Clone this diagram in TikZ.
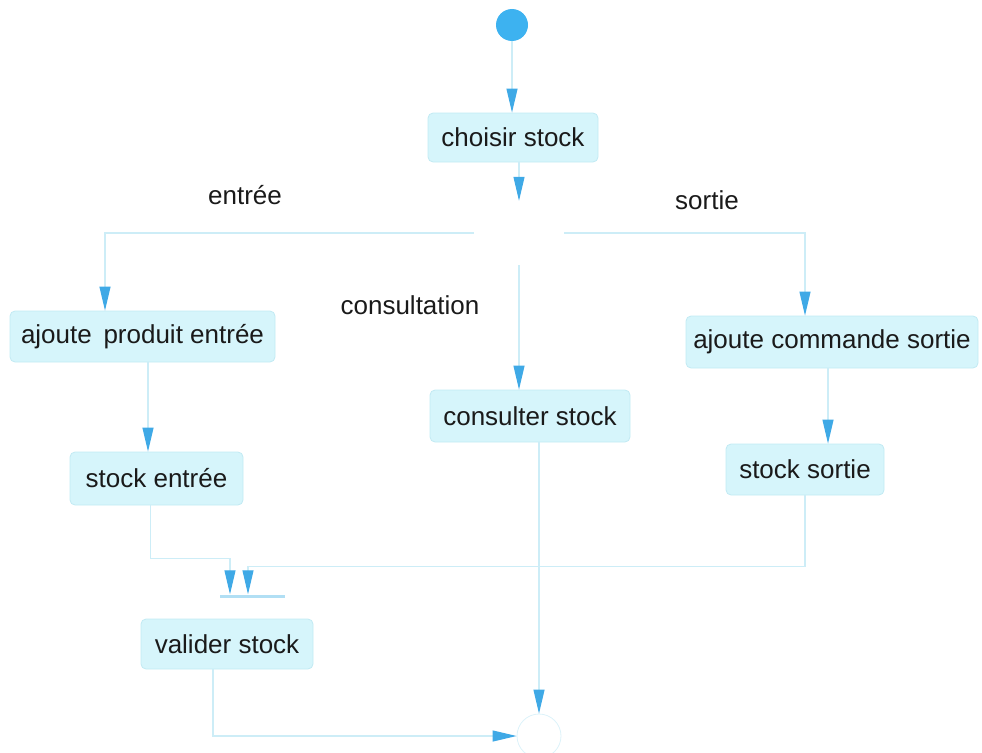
\documentclass[tikz,border=0pt]{standalone}
\usepackage{fontspec}
\setmainfont{Liberation Sans}
\usetikzlibrary{arrows.meta,shapes.geometric,calc}
\definecolor{linefaint}{HTML}{CDEDF7}
\definecolor{tipblue}{HTML}{3FA9E6}
\definecolor{boxfill}{HTML}{D6F5FB}
\definecolor{boxedge}{HTML}{C2EAF3}
\definecolor{startblue}{HTML}{3DB2F0}
\definecolor{inktext}{HTML}{1A1A1A}
\tikzset{
  activity/.style={draw=boxedge, fill=boxfill, rounded corners=5pt, line width=0.8pt,
    inner sep=0pt, text=inktext, font=\fontsize{26}{30}\selectfont},
  guard/.style={text=inktext, font=\fontsize{26}{30}\selectfont},
  flow/.style={draw=linefaint, line width=1.1pt,
    -{Triangle[length=24pt,width=11pt,color=tipblue]}},
  plain/.style={draw=linefaint, line width=1.1pt},
}
\begin{document}
\begin{tikzpicture}[x=1pt,y=-1pt]
\useasboundingbox (0,0) rectangle (982,752);

% start and end states
\node[circle, fill=startblue, minimum size=32pt, inner sep=0pt] (init) at (512,25) {};
\node[circle, draw=linefaint!70, line width=0.8pt, minimum size=44pt, inner sep=0pt] (final) at (539,736) {};

% decision point (invisible) and join bar
\node[diamond, minimum width=90pt, minimum height=64pt, inner sep=0pt] (dec) at (519,233) {};
\node[rectangle, fill=linefaint!80!tipblue, minimum width=65pt, minimum height=3pt, inner sep=0pt] (bar) at (252,596) {};

% activities
\node[activity, minimum width=170pt, minimum height=49pt] (choisir) at (513,137.5) {choisir stock};
\node[activity, minimum width=265pt, minimum height=51pt] (ape) at (142.5,336.5) {ajoute\hspace{0.45em}produit entrée};
\node[activity, minimum width=173pt, minimum height=53pt] (se) at (156.5,478.5) {stock entrée};
\node[activity, minimum width=200pt, minimum height=52pt] (cs) at (530,416) {consulter stock};
\node[activity, minimum width=292pt, minimum height=52pt] (acs) at (832,342) {ajoute commande sortie};
\node[activity, minimum width=158pt, minimum height=51pt] (ss) at (805,469.5) {stock sortie};
\node[activity, minimum width=172pt, minimum height=50pt] (vs) at (227,644) {valider stock};

% guard labels
\node[guard] (lentree) at (245,195) {entrée};
\node[guard] (lsortie) at (707,200) {sortie};
\node[guard] (lconsult) at (410,305) {consultation};

% connector end points
\coordinate (ain)  at ($(ape.north)+(-37.5,0)$);
\coordinate (sin)  at ($(acs.north)+(-27,0)$);
\coordinate (aout) at ($(ape.south)+(5.5,0)$);
\coordinate (sout) at ($(acs.south)+(-4,0)$);
\coordinate (eout) at ($(se.south)+(-6,0)$);
\coordinate (cout) at ($(cs.south)+(9,0)$);
\coordinate (vout) at ($(vs.south)+(-14,0)$);
\coordinate (jl) at ($(bar.north)+(-22,0)$);
\coordinate (jr) at ($(bar.north)+(-4,0)$);

% flows
\draw[flow] (init.south) -- (init.south |- choisir.north);
\draw[flow] (choisir.south -| dec.north) -- (dec.north);
\draw[flow] (dec.west) -| (ain);
\draw[flow] (dec.east) -| (sin);
\draw[flow] (dec.south) -- (dec.south |- cs.north);
\draw[flow] (aout) -- (aout |- se.north);
\draw[flow] (sout) -- (sout |- ss.north);

% into the join bar
\draw[plain] (eout) |- ($(jl)+(0,-36)$);
\draw[flow] ($(jl)+(0,-36)$) -- (jl);
\draw[plain] (ss.south) |- ($(jr)+(0,-28)$);
\draw[flow] ($(jr)+(0,-28)$) -- (jr);

% into the final state
\draw[flow] (cout) -- (cout |- final.north);
\draw[flow] (vout) |- (final.west);
\end{tikzpicture}
\end{document}
